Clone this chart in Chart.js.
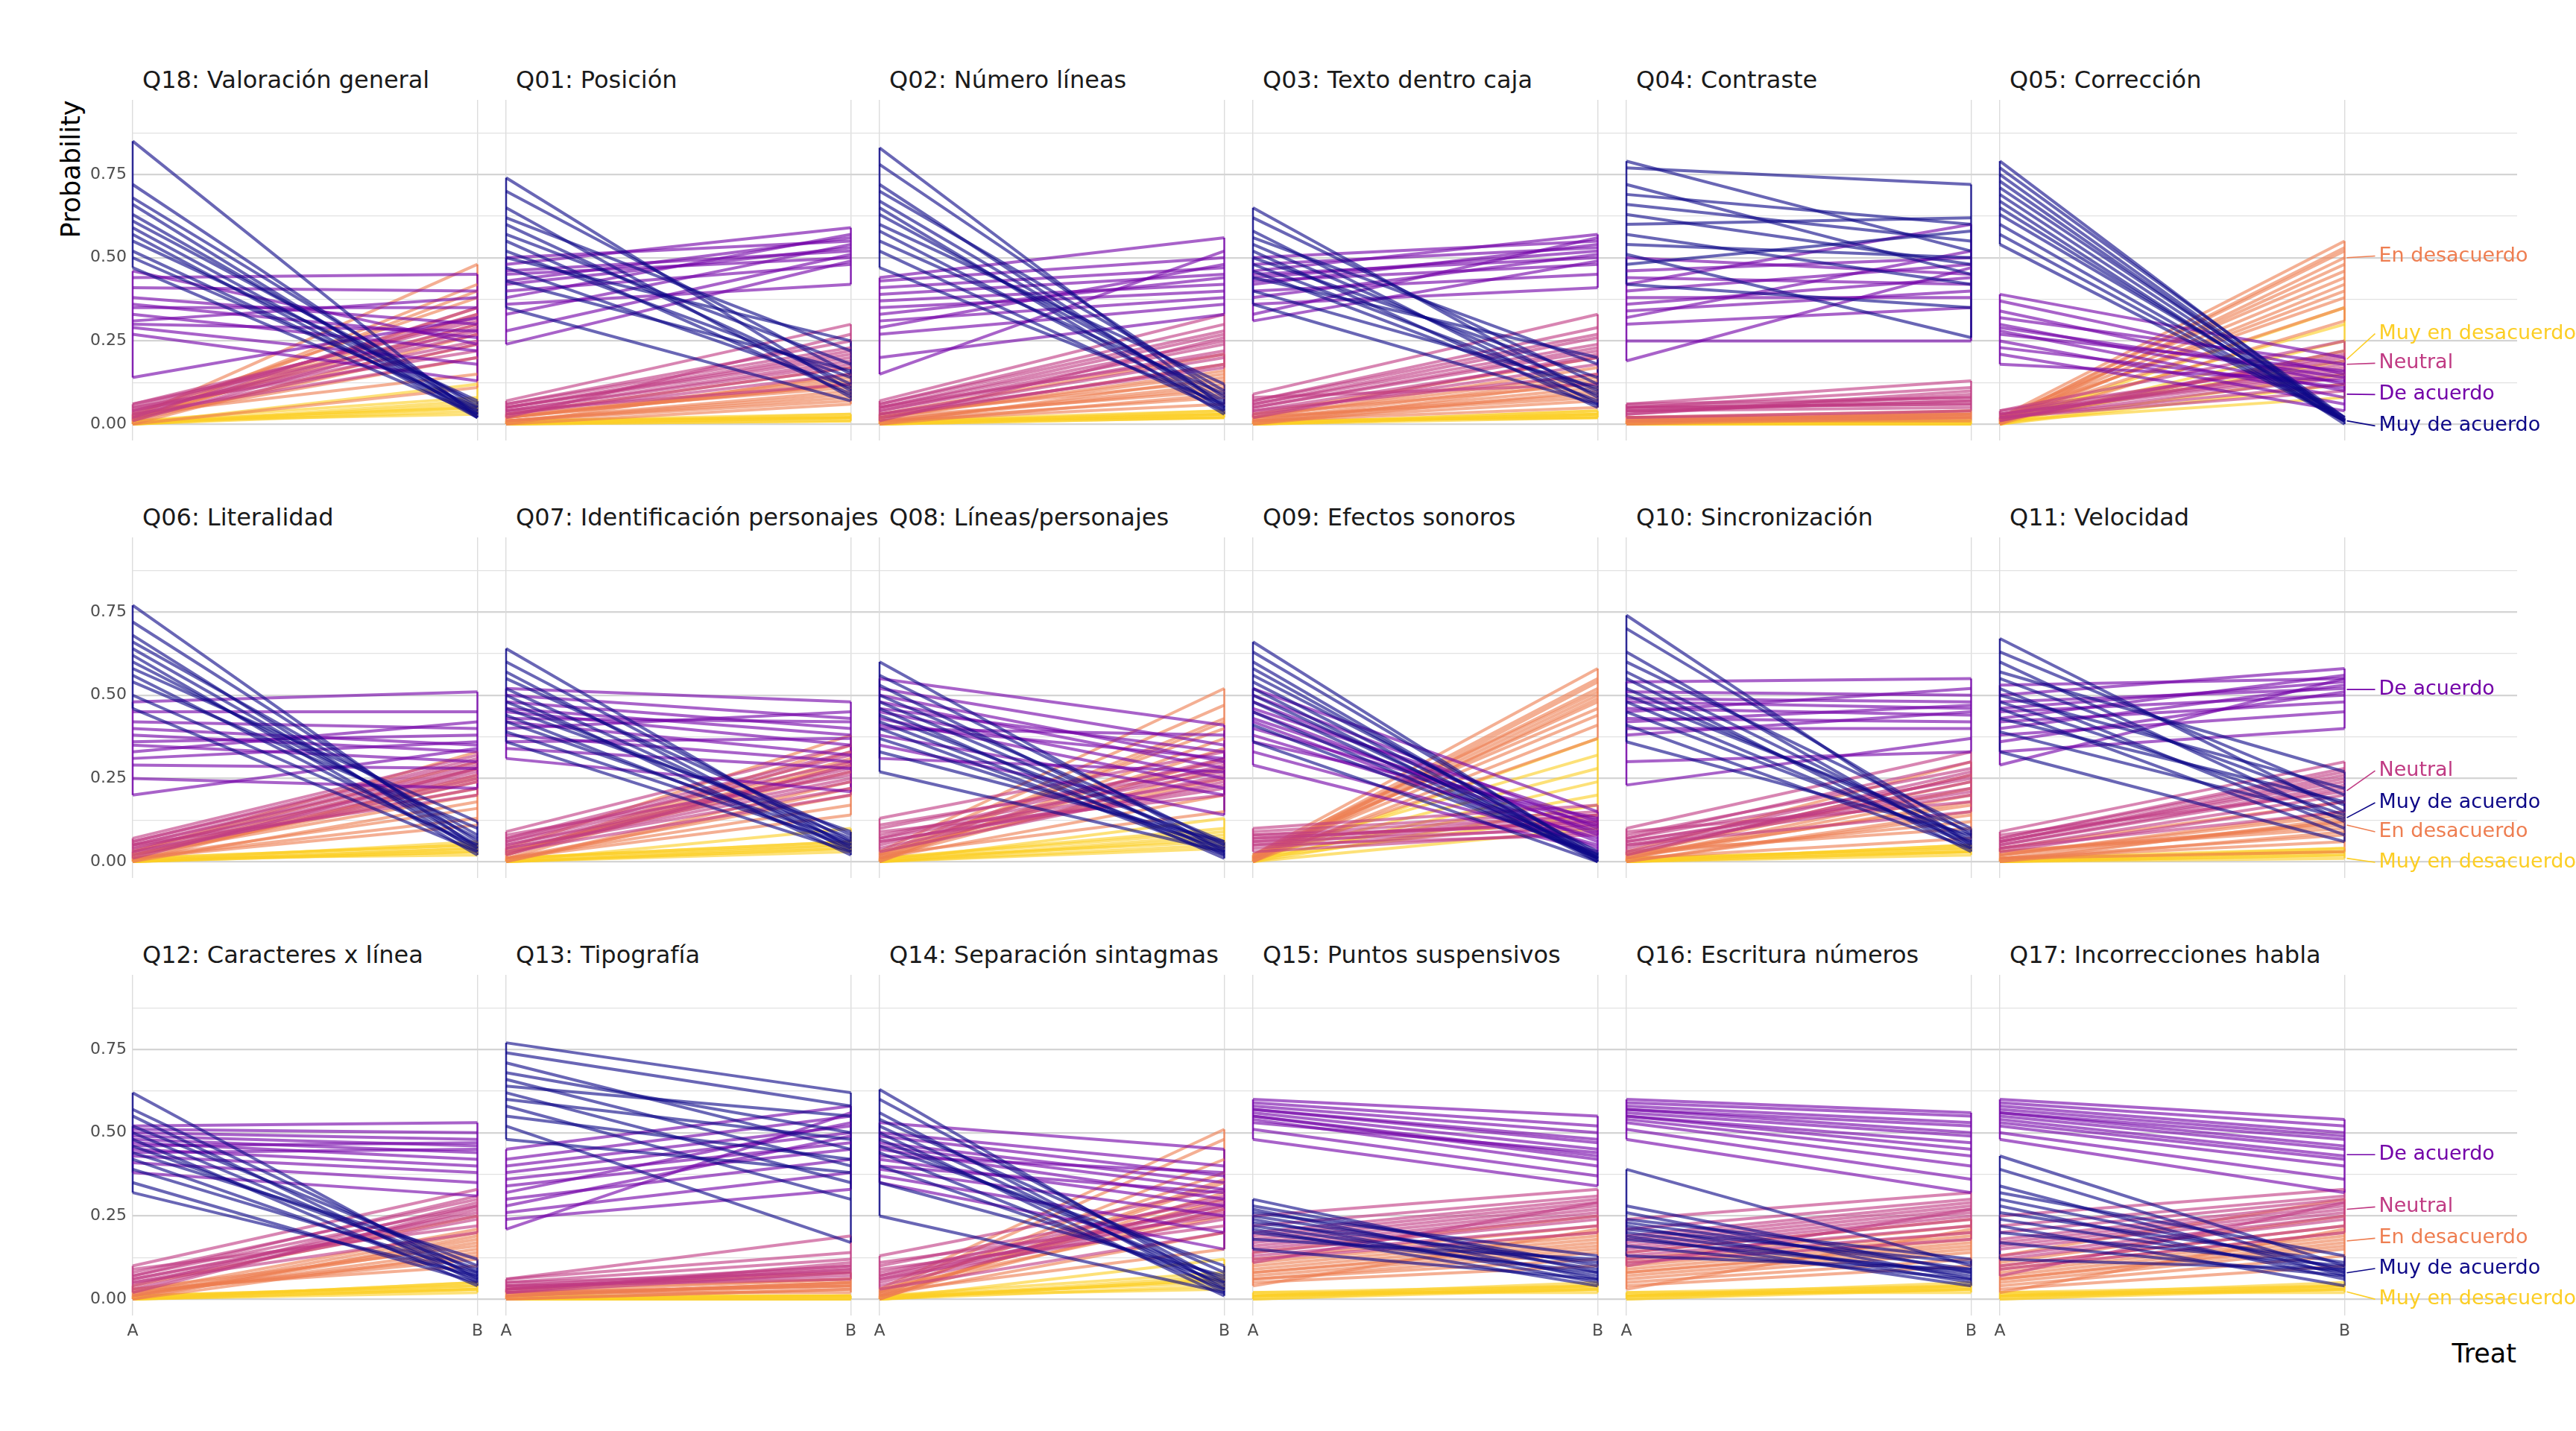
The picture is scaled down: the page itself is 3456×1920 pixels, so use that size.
<!DOCTYPE html>
<html>
<head>
<meta charset="utf-8">
<script src="https://cdn.jsdelivr.net/npm/chart.js@4.4.1/dist/chart.umd.min.js"></script>
<style>
  html, body { margin: 0; padding: 0; background: #fff; }
  #page { position: relative; width: 3456px; height: 1920px; background: #fff; overflow: hidden; font-family: "DejaVu Sans", sans-serif; }
  .panel { position: absolute; }
  .strip { position: absolute; font-size: 32px; color: #1a1a1a; white-space: nowrap; line-height: 1; transform: translateY(-50%); }
  .axis-title { position: absolute; font-size: 35px; color: #000; white-space: nowrap; line-height: 1; }
</style>
</head>
<body>
<div id="page">
  <div class="axis-title" style="left:95px; top:227px; transform: translate(-50%, -50%) rotate(-90deg);">Probability</div>
  <div class="axis-title" style="right:80px; top:1816px; transform: translateY(-50%);">Treat</div>
</div>
<script>
// paneles (orden de la faceta)
const panelTitles = [
  'Q18: Valoración general', 'Q01: Posición', 'Q02: Número líneas', 'Q03: Texto dentro caja', 'Q04: Contraste', 'Q05: Corrección',
  'Q06: Literalidad', 'Q07: Identificación personajes', 'Q08: Líneas/personajes', 'Q09: Efectos sonoros', 'Q10: Sincronización', 'Q11: Velocidad',
  'Q12: Caracteres x línea', 'Q13: Tipografía', 'Q14: Separación sintagmas', 'Q15: Puntos suspensivos', 'Q16: Escritura números', 'Q17: Incorrecciones habla'
];
const levels = ['Muy de acuerdo', 'De acuerdo', 'Neutral', 'En desacuerdo', 'Muy en desacuerdo'];
const treatLabels = ['A', 'B'];
const yTicks = [0, 0.125, 0.25, 0.375, 0.5, 0.625, 0.75, 0.875];

// probabilidad de cada draw en A y en B, un array por panel
const muyDeAcuerdoA = [
  [.85,.72,.68,.66,.63,.61,.59,.57,.55,.52,.50,.47],
  [.74,.70,.65,.62,.60,.57,.55,.52,.50,.47,.43,.35],
  [.83,.78,.72,.70,.67,.65,.63,.60,.58,.55,.52,.47],
  [.65,.62,.58,.56,.54,.52,.50,.48,.46,.44,.40,.36],
  [.79,.77,.72,.69,.66,.63,.60,.57,.54,.51,.48,.42],
  [.79,.77,.75,.73,.71,.69,.67,.65,.63,.60,.57,.54],
  [.77,.72,.68,.66,.64,.62,.60,.58,.56,.54,.50,.46],
  [.64,.60,.57,.55,.52,.50,.48,.46,.44,.42,.39,.36],
  [.60,.56,.53,.50,.48,.46,.44,.42,.40,.37,.33,.27],
  [.66,.63,.60,.58,.56,.54,.52,.50,.48,.45,.41,.36],
  [.74,.70,.63,.60,.57,.55,.52,.50,.48,.45,.41,.36],
  [.67,.63,.60,.57,.55,.52,.50,.48,.46,.43,.39,.33],
  [.62,.57,.55,.52,.50,.48,.46,.44,.42,.39,.35,.32],
  [.77,.74,.71,.68,.66,.64,.62,.60,.58,.55,.52,.48],
  [.63,.60,.56,.54,.52,.50,.48,.46,.44,.40,.35,.25],
  [.30,.28,.27,.26,.25,.24,.23,.22,.21,.20,.18,.15],
  [.39,.28,.26,.24,.23,.22,.21,.20,.19,.18,.16,.13],
  [.43,.39,.34,.32,.30,.28,.26,.24,.22,.20,.17,.12]
];
const muyDeAcuerdoB = [
  [.02,.03,.05,.02,.04,.06,.03,.02,.07,.04,.05,.03],
  [.10,.15,.08,.22,.12,.18,.09,.14,.25,.11,.16,.07],
  [.05,.08,.04,.10,.06,.03,.07,.12,.05,.09,.04,.06],
  [.08,.12,.06,.18,.10,.05,.14,.09,.07,.20,.11,.06],
  [.52,.72,.45,.60,.55,.48,.62,.42,.50,.26,.58,.35],
  [.01,.02,.01,.01,.02,.01,.00,.01,.02,.01,.01,.01],
  [.04,.06,.03,.08,.05,.02,.07,.12,.04,.10,.05,.03],
  [.04,.06,.03,.08,.05,.02,.07,.09,.04,.06,.05,.03],
  [.03,.05,.02,.06,.04,.01,.05,.03,.02,.04,.06,.03],
  [.01,.02,.00,.01,.03,.01,.00,.02,.01,.01,.02,.00],
  [.05,.08,.04,.10,.06,.03,.07,.09,.05,.06,.04,.08],
  [.15,.20,.12,.27,.17,.10,.22,.14,.08,.18,.13,.06],
  [.06,.08,.05,.10,.07,.04,.09,.12,.06,.08,.05,.07],
  [.62,.58,.45,.50,.40,.55,.35,.48,.30,.42,.17,.38],
  [.03,.05,.02,.08,.04,.01,.06,.10,.03,.05,.07,.02],
  [.08,.10,.06,.13,.09,.05,.11,.07,.04,.08,.12,.06],
  [.10,.08,.06,.12,.09,.05,.11,.07,.04,.08,.06,.09],
  [.10,.08,.07,.13,.09,.06,.11,.08,.04,.10,.07,.09]
];
const deAcuerdoA = [
  [.14,.44,.41,.38,.36,.35,.33,.31,.30,.29,.46,.27],
  [.50,.48,.46,.45,.43,.42,.40,.38,.36,.33,.28,.24],
  [.44,.43,.41,.39,.37,.35,.33,.31,.29,.27,.20,.15],
  [.50,.48,.46,.45,.44,.43,.42,.40,.38,.36,.33,.31],
  [.50,.46,.44,.42,.40,.38,.36,.34,.32,.30,.25,.19],
  [.39,.37,.34,.32,.30,.29,.28,.27,.25,.23,.21,.18],
  [.48,.45,.42,.40,.38,.36,.35,.33,.31,.29,.25,.20],
  [.52,.50,.48,.46,.45,.43,.42,.40,.38,.36,.34,.31],
  [.55,.52,.50,.48,.46,.45,.43,.41,.40,.38,.35,.31],
  [.52,.50,.48,.46,.45,.43,.42,.40,.38,.36,.33,.29],
  [.54,.51,.49,.48,.46,.45,.43,.42,.40,.38,.30,.23],
  [.53,.50,.48,.46,.45,.43,.42,.40,.38,.36,.33,.29],
  [.52,.51,.50,.49,.48,.47,.46,.45,.44,.43,.41,.38],
  [.45,.42,.40,.38,.36,.34,.32,.30,.28,.26,.24,.21],
  [.53,.50,.49,.47,.46,.45,.43,.42,.40,.39,.37,.35],
  [.60,.59,.58,.57,.57,.56,.55,.55,.54,.53,.51,.48],
  [.60,.59,.58,.57,.57,.56,.55,.55,.54,.53,.51,.48],
  [.60,.59,.58,.57,.56,.56,.55,.54,.53,.52,.50,.48]
];
const deAcuerdoB = [
  [.32,.45,.40,.30,.26,.35,.22,.38,.28,.18,.24,.13],
  [.55,.59,.52,.50,.56,.53,.48,.57,.42,.54,.51,.49],
  [.56,.50,.47,.45,.42,.40,.44,.38,.48,.36,.33,.52],
  [.55,.53,.57,.50,.52,.48,.54,.45,.51,.41,.56,.49],
  [.45,.50,.42,.60,.48,.38,.44,.40,.52,.35,.25,.47],
  [.20,.15,.12,.18,.10,.14,.08,.16,.06,.11,.04,.13],
  [.51,.45,.40,.35,.33,.38,.30,.42,.36,.28,.22,.34],
  [.48,.43,.40,.38,.35,.42,.32,.45,.30,.37,.28,.21],
  [.41,.35,.30,.28,.33,.25,.22,.31,.38,.20,.14,.27],
  [.15,.10,.08,.12,.06,.09,.04,.11,.07,.13,.05,.03],
  [.55,.50,.48,.46,.44,.52,.42,.47,.40,.45,.33,.37],
  [.55,.58,.52,.54,.50,.56,.48,.53,.45,.51,.40,.55],
  [.53,.50,.48,.46,.44,.42,.47,.40,.45,.38,.35,.31],
  [.58,.55,.52,.50,.47,.45,.53,.42,.49,.38,.33,.56],
  [.45,.40,.37,.35,.33,.30,.38,.28,.32,.25,.20,.15],
  [.55,.52,.50,.48,.47,.45,.43,.42,.40,.44,.37,.34],
  [.56,.55,.53,.52,.50,.49,.47,.45,.43,.40,.36,.32],
  [.54,.52,.50,.49,.48,.46,.45,.43,.42,.40,.36,.32]
];
const neutralA = [
  [.06,.05,.04,.03,.05,.02,.04,.03,.06,.02,.01,.04],
  [.07,.05,.04,.06,.03,.05,.02,.04,.06,.03,.05,.04],
  [.07,.06,.05,.04,.03,.05,.02,.04,.06,.03,.05,.01],
  [.09,.07,.06,.05,.04,.06,.03,.05,.07,.04,.02,.08],
  [.06,.05,.04,.05,.03,.04,.06,.03,.05,.04,.02,.05],
  [.04,.03,.02,.03,.01,.02,.04,.03,.02,.01,.03,.02],
  [.07,.06,.05,.04,.03,.05,.02,.04,.06,.03,.05,.01],
  [.09,.07,.06,.05,.04,.06,.03,.05,.07,.04,.02,.08],
  [.13,.10,.08,.07,.06,.05,.09,.04,.07,.03,.11,.06],
  [.10,.08,.07,.06,.05,.04,.09,.03,.07,.05,.06,.08],
  [.10,.08,.07,.06,.05,.04,.09,.03,.07,.05,.06,.02],
  [.09,.07,.06,.05,.04,.06,.03,.05,.07,.04,.08,.06],
  [.10,.08,.07,.06,.05,.04,.09,.03,.07,.05,.06,.02],
  [.06,.05,.04,.03,.05,.02,.04,.03,.06,.02,.04,.03],
  [.13,.10,.08,.07,.06,.05,.09,.04,.07,.03,.11,.06],
  [.25,.22,.20,.19,.18,.17,.16,.15,.14,.13,.12,.11],
  [.24,.21,.19,.18,.17,.16,.15,.14,.13,.12,.11,.10],
  [.25,.22,.20,.18,.17,.16,.15,.13,.12,.10,.09,.07]
];
const neutralB = [
  [.28,.32,.25,.30,.22,.35,.27,.20,.31,.24,.29,.33],
  [.30,.22,.18,.25,.15,.20,.27,.12,.23,.17,.21,.19],
  [.33,.28,.25,.22,.20,.27,.18,.24,.30,.17,.21,.26],
  [.33,.27,.24,.22,.20,.26,.18,.23,.29,.15,.21,.12],
  [.13,.08,.07,.06,.09,.05,.08,.10,.06,.07,.04,.11],
  [.25,.20,.18,.15,.22,.12,.19,.16,.10,.21,.17,.14],
  [.32,.30,.28,.26,.25,.29,.24,.27,.31,.22,.20,.28],
  [.35,.30,.28,.25,.22,.32,.20,.27,.33,.24,.29,.26],
  [.33,.30,.27,.25,.22,.29,.20,.26,.31,.24,.28,.23],
  [.17,.14,.12,.10,.13,.11,.15,.09,.12,.08,.14,.11],
  [.33,.28,.25,.22,.20,.27,.18,.24,.30,.15,.21,.26],
  [.30,.27,.24,.22,.20,.26,.18,.23,.28,.15,.21,.25],
  [.33,.30,.28,.26,.24,.29,.22,.27,.31,.20,.25,.28],
  [.19,.12,.10,.09,.08,.11,.07,.10,.14,.08,.06,.09],
  [.33,.30,.28,.26,.24,.29,.22,.27,.31,.20,.25,.28],
  [.33,.31,.30,.29,.28,.27,.26,.25,.24,.22,.20,.29],
  [.32,.30,.29,.28,.27,.26,.25,.24,.22,.20,.18,.27],
  [.33,.31,.30,.29,.28,.27,.26,.25,.24,.22,.20,.29]
];
const enDesacuerdoA = [
  [.02,.01,.03,.01,.02,.00,.01,.02,.01,.03,.00,.01],
  [.03,.02,.01,.02,.00,.01,.02,.01,.03,.00,.01,.02],
  [.03,.02,.01,.02,.00,.01,.02,.01,.03,.00,.01,.02],
  [.03,.02,.01,.02,.00,.01,.02,.01,.03,.00,.01,.02],
  [.02,.01,.02,.01,.00,.01,.02,.01,.00,.02,.01,.01],
  [.02,.01,.00,.01,.02,.01,.00,.01,.02,.01,.00,.01],
  [.03,.02,.01,.02,.00,.01,.02,.01,.03,.00,.01,.02],
  [.04,.02,.01,.03,.00,.01,.02,.01,.03,.00,.01,.02],
  [.03,.02,.01,.02,.00,.01,.02,.01,.03,.00,.01,.02],
  [.02,.01,.00,.01,.02,.01,.00,.01,.02,.01,.00,.01],
  [.03,.02,.01,.02,.00,.01,.02,.01,.03,.00,.01,.02],
  [.04,.02,.01,.03,.00,.01,.02,.01,.03,.00,.01,.02],
  [.04,.02,.01,.03,.00,.01,.02,.01,.03,.00,.01,.02],
  [.03,.02,.01,.02,.00,.01,.02,.01,.03,.00,.01,.02],
  [.03,.02,.01,.02,.00,.01,.02,.01,.03,.00,.01,.02],
  [.14,.12,.11,.10,.09,.08,.08,.07,.06,.06,.05,.04],
  [.14,.12,.11,.10,.09,.08,.08,.07,.06,.05,.04,.03],
  [.13,.11,.10,.09,.08,.07,.06,.06,.05,.04,.03,.02]
];
const enDesacuerdoB = [
  [.48,.42,.38,.35,.30,.27,.24,.20,.33,.15,.11,.40],
  [.17,.12,.09,.14,.06,.10,.13,.08,.11,.15,.07,.12],
  [.21,.16,.12,.10,.14,.08,.18,.06,.13,.09,.11,.15],
  [.20,.15,.11,.09,.13,.07,.17,.05,.12,.10,.14,.08],
  [.04,.03,.02,.03,.02,.01,.03,.02,.04,.02,.03,.02],
  [.55,.52,.50,.48,.46,.44,.42,.40,.38,.35,.31,.53],
  [.33,.28,.24,.20,.26,.16,.22,.13,.30,.18,.11,.25],
  [.38,.33,.30,.27,.24,.20,.35,.17,.29,.22,.14,.31],
  [.52,.47,.43,.40,.37,.34,.31,.28,.25,.42,.20,.15],
  [.58,.55,.54,.52,.51,.50,.49,.48,.46,.44,.41,.37],
  [.30,.24,.20,.17,.14,.22,.12,.18,.10,.15,.07,.26],
  [.18,.14,.12,.10,.13,.08,.15,.06,.11,.09,.03,.12],
  [.25,.21,.18,.16,.14,.20,.12,.17,.10,.19,.15,.13],
  [.08,.06,.05,.04,.03,.05,.02,.04,.06,.03,.05,.04],
  [.51,.48,.42,.38,.35,.32,.30,.27,.25,.36,.20,.15],
  [.25,.22,.20,.19,.18,.17,.16,.15,.14,.12,.10,.21],
  [.24,.22,.20,.19,.18,.17,.16,.15,.14,.12,.10,.21],
  [.30,.25,.22,.20,.19,.18,.17,.16,.15,.13,.10,.21]
];
const muyEnDesacuerdoA = [
  [.00,.01,.00,.01,.00,.00,.01,.00],
  [.00,.01,.00,.00,.01,.00,.00,.01],
  [.00,.01,.00,.00,.01,.00,.00,.01],
  [.00,.00,.01,.00,.00,.01,.00,.00],
  [.00,.00,.01,.00,.00,.00,.01,.00],
  [.00,.01,.00,.00,.01,.00,.00,.01],
  [.00,.01,.00,.00,.01,.00,.00,.01],
  [.00,.01,.00,.00,.01,.00,.00,.01],
  [.00,.01,.00,.00,.01,.00,.00,.01],
  [.00,.02,.01,.00,.01,.00,.01,.00],
  [.00,.01,.00,.00,.01,.00,.00,.01],
  [.00,.01,.00,.00,.01,.00,.00,.01],
  [.00,.01,.00,.00,.01,.00,.00,.01],
  [.00,.00,.01,.00,.00,.00,.01,.00],
  [.00,.01,.00,.00,.01,.00,.00,.01],
  [.01,.02,.01,.00,.01,.02,.01,.00],
  [.01,.02,.01,.00,.01,.02,.01,.00],
  [.01,.02,.01,.00,.01,.02,.01,.00]
];
const muyEnDesacuerdoB = [
  [.12,.08,.06,.05,.04,.07,.03,.05],
  [.03,.02,.01,.02,.03,.02,.01,.02],
  [.04,.03,.02,.03,.04,.02,.03,.02],
  [.04,.03,.02,.03,.04,.02,.03,.02],
  [.01,.00,.01,.01,.00,.01,.01,.00],
  [.35,.30,.25,.22,.19,.15,.12,.08],
  [.06,.05,.04,.03,.05,.04,.03,.02],
  [.10,.06,.05,.04,.06,.03,.04,.05],
  [.13,.10,.08,.07,.06,.05,.04,.09],
  [.37,.32,.28,.24,.20,.17,.14,.10],
  [.05,.04,.03,.03,.04,.02,.05,.03],
  [.04,.03,.02,.03,.04,.02,.01,.03],
  [.05,.04,.03,.03,.04,.02,.05,.03],
  [.01,.00,.01,.01,.00,.01,.01,.00],
  [.12,.08,.07,.06,.05,.04,.06,.03],
  [.05,.04,.03,.03,.04,.02,.03,.04],
  [.05,.04,.03,.03,.04,.02,.03,.04],
  [.05,.04,.03,.03,.04,.02,.03,.04]
];

// etiquetas a la derecha (Q05, Q11, Q17): punto en B y posición de la etiqueta
const labelAnchor = [
  [0.01, 0.09, 0.18, 0.50, 0.195],
  [0.132, 0.517, 0.213, 0.11, 0.01],
  [0.079, 0.434, 0.27, 0.175, 0.022]
];
const labelPos = [
  [-0.005, 0.089, 0.183, 0.505, 0.272],
  [0.177, 0.517, 0.273, 0.09, -0.002],
  [0.092, 0.434, 0.277, 0.183, 0.0]
];

const drawsA = [muyDeAcuerdoA, deAcuerdoA, neutralA, enDesacuerdoA, muyEnDesacuerdoA];
const drawsB = [muyDeAcuerdoB, deAcuerdoB, neutralB, enDesacuerdoB, muyEnDesacuerdoB];

// estilo
const plasma = ['#0D0887', '#7301A8', '#C03A83', '#EE7E51', '#FCCE25'];
const rowTop = [134, 721, 1308];
const panelH = 457;
const colA = 178, colStep = 501, unitW = 462.5;

Chart.defaults.font.family = '"DejaVu Sans", sans-serif';

function rgba(hex, a) {
  const n = parseInt(hex.slice(1), 16);
  return `rgba(${(n >> 16) & 255}, ${(n >> 8) & 255}, ${n & 255}, ${a})`;
}

function isMajor(v) {
  return Math.abs(v * 4 - Math.round(v * 4)) < 1e-9;
}

// sin relleno automático de las etiquetas de los ejes, para que todos los paneles queden alineados
function noPad(s) {
  s.paddingLeft = 0; s.paddingRight = 0; s.paddingTop = 0; s.paddingBottom = 0;
}

// etiquetas tipo ggrepel
function makeLabelPlugin(row) {
  return {
    id: 'repelLabels',
    afterDatasetsDraw(chart) {
      const { ctx, scales: { x, y } } = chart;
      const xb = x.getPixelForValue(1);
      ctx.save();
      ctx.font = '27px "DejaVu Sans"';
      ctx.textBaseline = 'middle';
      levels.forEach((lv, k) => {
        const ya = y.getPixelForValue(labelAnchor[row][k]);
        const yl = y.getPixelForValue(labelPos[row][k]);
        ctx.strokeStyle = plasma[k];
        ctx.lineWidth = 1.6;
        ctx.beginPath();
        ctx.moveTo(xb + 3, ya);
        ctx.lineTo(xb + 41, yl);
        ctx.stroke();
        ctx.fillStyle = plasma[k];
        ctx.fillText(lv, xb + 46, yl);
      });
      ctx.restore();
    }
  };
}

const page = document.getElementById('page');

panelTitles.forEach((title, i) => {
  const row = Math.floor(i / 6), col = i % 6;
  const first = col === 0, last = col === 5, bottom = row === 2;
  const left = colA + colStep * col;
  const top = rowTop[row];
  const padL = first ? 90 : 14;
  const padR = last ? 80 : 6;
  const areaW = last ? 694 : colStep;
  const axisH = bottom ? 40 : 0;
  const w = padL + areaW + padR;
  const h = 6 + panelH + axisH + 6;

  const strip = document.createElement('div');
  strip.className = 'strip';
  strip.style.left = (left + 13) + 'px';
  strip.style.top = (top - 27) + 'px';
  strip.textContent = title;
  page.appendChild(strip);

  const box = document.createElement('div');
  box.className = 'panel';
  box.style.left = (left - padL) + 'px';
  box.style.top = (top - 6) + 'px';
  const cv = document.createElement('canvas');
  cv.width = w; cv.height = h;
  cv.style.width = w + 'px'; cv.style.height = h + 'px';
  box.appendChild(cv);
  page.appendChild(box);

  const datasets = [];
  levels.forEach((lv, k) => {
    const aVals = drawsA[k][i], bVals = drawsB[k][i];
    aVals.forEach((a, j) => {
      datasets.push({
        data: [{ x: 0, y: a }, { x: 1, y: bVals[j] }],
        borderColor: rgba(plasma[k], 0.62),
        borderWidth: 4,
        pointRadius: 0,
        clip: false
      });
    });
  });
  // trazo vertical en A y B de cada categoría
  levels.forEach((lv, k) => {
    [drawsA[k][i], drawsB[k][i]].forEach((vals, xi) => {
      datasets.push({
        data: [{ x: xi, y: Math.min(...vals) }, { x: xi, y: Math.max(...vals) }],
        borderColor: rgba(plasma[k], 0.85),
        borderWidth: 2.5,
        pointRadius: 0,
        clip: false
      });
    });
  });

  new Chart(cv, {
    type: 'line',
    data: { datasets },
    options: {
      responsive: false,
      animation: false,
      parsing: false,
      layout: { padding: { left: padL - (first ? 84 : 0), right: padR, top: 6, bottom: 6 } },
      plugins: { legend: { display: false }, tooltip: { enabled: false } },
      scales: {
        x: {
          type: 'linear',
          min: 0,
          max: areaW / unitW,
          afterBuildTicks: s => { s.ticks = [{ value: 0 }, { value: 1 }]; },
          afterFit: s => { s.height = axisH; noPad(s); },
          grid: { color: '#DCDCDC', lineWidth: 1.4, drawTicks: false },
          border: { display: false },
          ticks: {
            display: bottom,
            padding: 8,
            autoSkip: false,
            maxRotation: 0,
            color: '#4D4D4D',
            font: { size: 22 },
            callback: v => treatLabels[v]
          }
        },
        y: {
          min: -0.049,
          max: 0.974,
          afterBuildTicks: s => { s.ticks = yTicks.map(v => ({ value: v })); },
          afterFit: s => { s.width = first ? 84 : 0; noPad(s); },
          grid: {
            color: c => isMajor(c.tick.value) ? '#D4D4D4' : '#E2E2E2',
            lineWidth: c => isMajor(c.tick.value) ? 2.2 : 1.3,
            drawTicks: false
          },
          border: { display: false },
          ticks: {
            display: first,
            padding: 8,
            color: '#4D4D4D',
            font: { size: 22 },
            callback: v => isMajor(v) ? v.toFixed(2) : ''
          }
        }
      }
    },
    plugins: last ? [makeLabelPlugin(row)] : []
  });
});
</script>
</body>
</html>
